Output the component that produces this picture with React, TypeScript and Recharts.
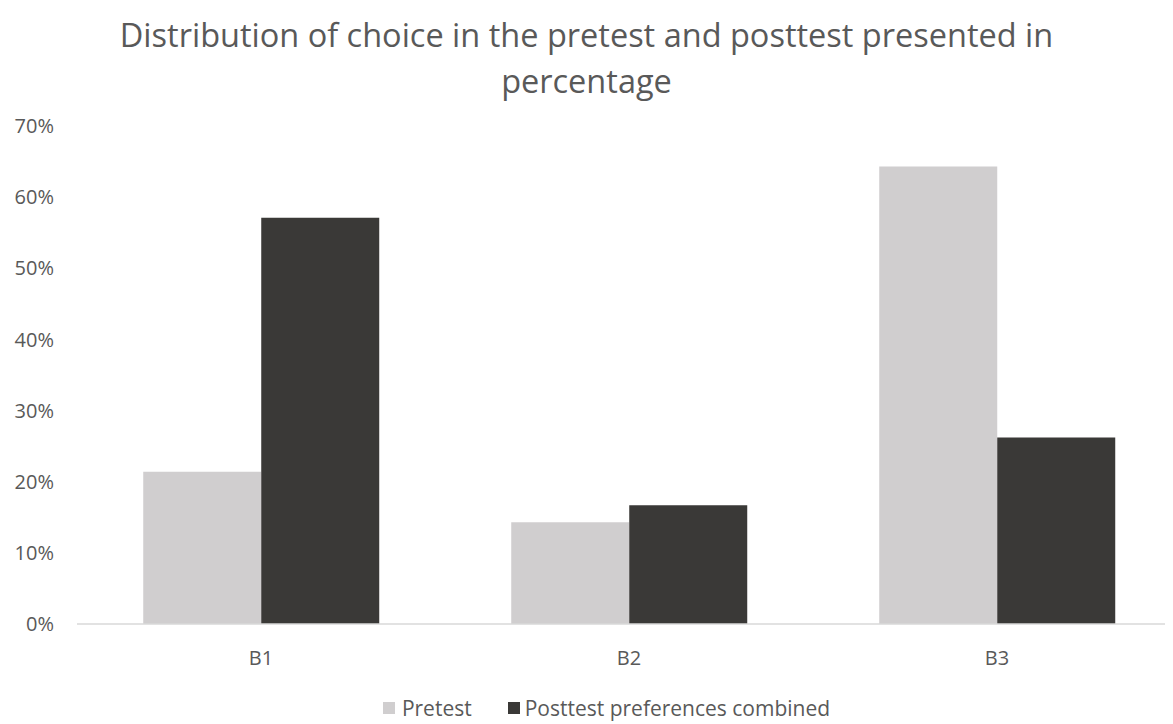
import { Bar, BarChart, XAxis, YAxis } from "recharts";

const categories = ["B1", "B2", "B3"];
const pretest = [21.4, 14.3, 64.3];
const posttest = [57.1, 16.7, 26.2];
const yTicks = [0, 10, 20, 30, 40, 50, 60, 70];

const data = categories.map((name, i) => ({
  name,
  pretest: pretest[i],
  posttest: posttest[i],
}));

const FONT = "'Open Sans', Lato, sans-serif";
const TEXT = "#595959";
const PRE = "#d0cecf";
const POST = "#3a3937";

export default function App() {
  return (
    <div
      style={{
        position: "relative",
        width: 1173,
        height: 724,
        margin: "-8px 0 0 -8px",
        overflow: "hidden",
        background: "#fff",
        fontFamily: FONT,
      }}
    >
      <div
        style={{
          position: "absolute",
          top: 12,
          left: 0,
          width: 1173,
          textAlign: "center",
          fontSize: 32.5,
          lineHeight: "46px",
          color: TEXT,
        }}
      >
        Distribution of choice in the pretest and posttest presented in
        <br />
        percentage
      </div>
      <div style={{ position: "absolute", top: 0, left: 0 }}>
        <BarChart
          width={1200}
          height={724}
          data={data}
          margin={{ top: 126, right: 19, bottom: 40, left: 0 }}
          barCategoryGap="18%"
          barGap={0}
        >
          <XAxis
            dataKey="name"
            height={60}
            tickLine={false}
            axisLine={{ stroke: "#d9d9d9", strokeWidth: 1.5 }}
            tickSize={0}
            tickMargin={27}
            tick={{ fill: TEXT, fontSize: 20, fontFamily: FONT }}
          />
          <YAxis
            width={77}
            domain={[0, 70]}
            ticks={yTicks}
            tickFormatter={(v: number) => `${v}%`}
            axisLine={false}
            tickLine={false}
            tickSize={0}
            tickMargin={23}
            tick={{ fill: TEXT, fontSize: 20, fontFamily: FONT }}
          />
          <Bar dataKey="pretest" name="Pretest" fill={PRE} isAnimationActive={false} />
          <Bar dataKey="posttest" name="Posttest preferences combined" fill={POST} isAnimationActive={false} />
        </BarChart>
      </div>
      <div
        style={{
          position: "absolute",
          top: 694,
          left: 0,
          width: 1173,
          paddingLeft: 40,
          boxSizing: "border-box",
          display: "flex",
          justifyContent: "center",
          alignItems: "center",
          fontSize: 21,
          color: TEXT,
        }}
      >
        <span style={{ width: 12, height: 12, background: PRE, marginRight: 7 }} />
        <span style={{ marginRight: 36 }}>Pretest</span>
        <span style={{ width: 12, height: 12, background: POST, marginRight: 5 }} />
        <span>Posttest preferences combined</span>
      </div>
    </div>
  );
}
